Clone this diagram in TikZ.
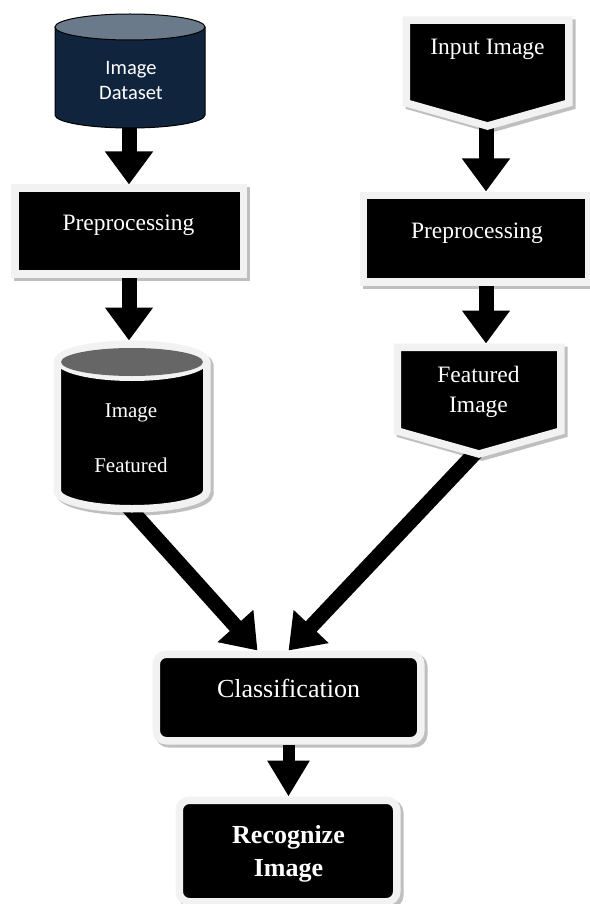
\documentclass[tikz,border=0pt]{standalone}
\usepackage{fontspec}
\setmainfont{Liberation Serif}
\newfontfamily\calibrifont{Carlito}
\usetikzlibrary{arrows.meta,calc}
\definecolor{navy}{HTML}{11243D}
\definecolor{dstop}{HTML}{6B7A8A}
\definecolor{fctop}{HTML}{666666}
\definecolor{framecol}{HTML}{F2F2F2}
\definecolor{shadowcol}{HTML}{BFBFBF}
\pgfdeclarelayer{bg}
\pgfsetlayers{bg,main}
\tikzset{
  blk/.style={fill=black, draw=framecol, line width=7.5pt, inner sep=0pt},
  shd/.style={fill=shadowcol, draw=shadowcol, line width=7.5pt},
  bigarrow/.style={line width=15pt, -{Triangle[width=46pt,length=33pt]}},
  smallarrow/.style={line width=12pt, -{Triangle[width=40pt,length=36pt]}},
  lbl/.style={text=white, anchor=base, inner sep=0pt},
  tnr/.style={font=\fontsize{23.5}{28}\selectfont},
}
\newcommand\fcshape[1]{\path[#1] (57.25,362) -- (57.25,491) arc[start angle=180,end angle=360,x radius=74.75pt,y radius=17.75pt] -- (206.75,362) arc[start angle=0,end angle=180,x radius=74.75pt,y radius=17.75pt] -- cycle;}
\newcommand\iishape[1]{\path[#1] (406.25,20.25) -- (568.75,20.25) -- (568.75,103) -- (487.5,126) -- (406.25,103) -- cycle;}
\newcommand\fishape[1]{\path[#1] (397.25,347.25) -- (560.75,347.25) -- (560.75,431) -- (479,454) -- (397.25,431) -- cycle;}
\begin{document}
\begin{tikzpicture}[x=1pt,y=-1pt]
\useasboundingbox (0,0) rectangle (589,904);
% Image Dataset cylinder
\fill[navy] (55,27) -- (55,115) arc[start angle=180,end angle=360,x radius=75pt,y radius=13pt] -- (205,27) -- cycle;
\draw[line width=1pt] (55,27) -- (55,115) arc[start angle=180,end angle=360,x radius=75pt,y radius=13pt] -- (205,27);
\filldraw[fill=dstop, line width=1pt] (130,27) ellipse[x radius=75pt, y radius=13pt];
\coordinate (ds-bot) at (129,124);
\node[lbl, font=\calibrifont\fontsize{20.5}{24}\selectfont] (ds-t1) at (131,75) {Image};
\node[lbl, font=\calibrifont\fontsize{20.5}{24}\selectfont] (ds-t2) at (131,100) {Dataset};
% Preprocessing left
\node[blk, minimum width=228.5pt, minimum height=85.5pt] (ppl) at (129,231) {};
\node[lbl, tnr] (ppl-t) at (128.5,230) {Preprocessing};
% Image Featured cylinder
\fcshape{blk}
\fill[framecol] (132,362) ellipse[x radius=76pt, y radius=19pt];
\fill[fctop] (132,362) ellipse[x radius=71pt, y radius=14pt];
\coordinate (fc-top) at (129,340.5);
\coordinate (fc-bot) at (122,500);
\node[lbl, font=\fontsize{21}{24}\selectfont] (fc-t1) at (131,417) {Image};
\node[lbl, font=\fontsize{21}{24}\selectfont] (fc-t2) at (131,472) {Featured};
% Input Image pentagon
\iishape{blk}
\coordinate (ii-bot) at (486,124);
\node[lbl, tnr] (ii-t) at (487.5,55) {Input Image};
% Preprocessing right
\node[blk, minimum width=225.5pt, minimum height=86.5pt] (ppr) at (476,238.5) {};
\node[lbl, tnr] (ppr-t) at (477,238) {Preprocessing};
% Featured Image pentagon
\fishape{blk}
\coordinate (fi-top) at (486,343.5);
\coordinate (fi-bot) at (478,450);
\node[lbl, tnr] (fi-t1) at (478.5,382) {Featured};
\node[lbl, tnr] (fi-t2) at (478.5,412) {Image};
% Classification
\node[blk, rounded corners=10pt, minimum width=264.5pt, minimum height=86.5pt] (cl) at (288.5,697.5) {};
\node[lbl, font=\fontsize{26}{30}\selectfont] (cl-t) at (288.5,697) {Classification};
% Recognize Image
\node[blk, rounded corners=10pt, minimum width=217.5pt, minimum height=101.5pt] (rec) at (288,851) {};
\node[lbl, font=\bfseries\fontsize{26}{30}\selectfont] (rec-t1) at (288.5,843) {Recognize};
\node[lbl, font=\bfseries\fontsize{26}{30}\selectfont] (rec-t2) at (288.5,876) {Image};
% shadows and connectors
\begin{pgfonlayer}{bg}
  \fill[shadowcol] ($(ppl.north west)+(3,3)$) rectangle ($(ppl.south east)+(3,3)$);
  \fill[shadowcol] ($(ppr.north west)+(3,3)$) rectangle ($(ppr.south east)+(3,3)$);
  \fill[shadowcol, rounded corners=13pt] ($(cl.north west)+(3,3)$) rectangle ($(cl.south east)+(3,3)$);
  \fill[shadowcol, rounded corners=13pt] ($(rec.north west)+(3,3)$) rectangle ($(rec.south east)+(3,3)$);
  \fcshape{shd, shift={(3,3)}}
  \iishape{shd, shift={(3,3)}}
  \fishape{shd, shift={(3,3)}}
  \draw[bigarrow] (ds-bot) -- (ds-bot |- ppl.north);
  \draw[bigarrow] (ppl.south) -- (fc-top);
  \draw[bigarrow] (ii-bot) -- (ii-bot |- ppr.north);
  \draw[bigarrow] (ii-bot |- ppr.south) -- (fi-top);
  \draw[bigarrow] (fc-bot) -- ($(cl.north)+(-31,0)$);
  \draw[bigarrow] (fi-bot) -- (cl.north);
  \draw[smallarrow] (cl.south) -- (cl.south |- rec.north);
\end{pgfonlayer}
\end{tikzpicture}
\end{document}
